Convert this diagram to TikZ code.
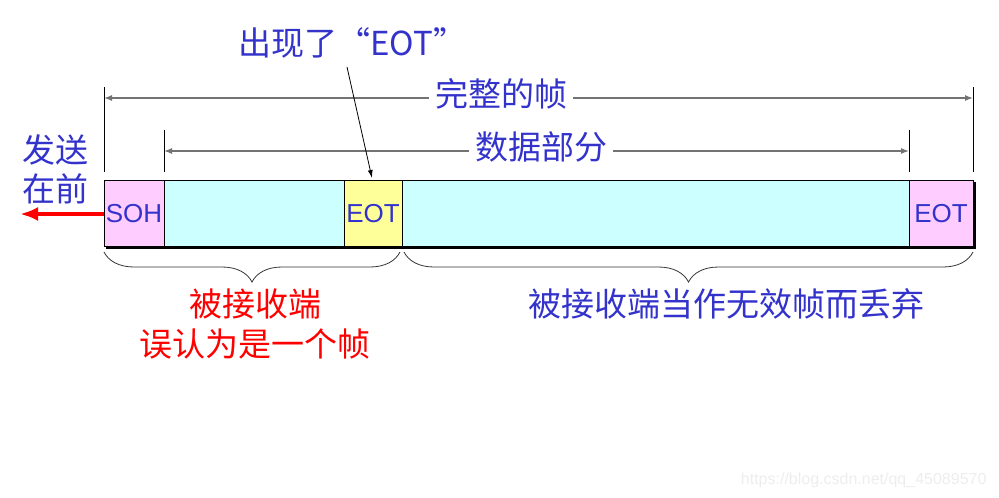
\documentclass[tikz,border=0pt]{standalone}
\usepackage{fontspec}
\setmainfont{Liberation Sans}
\newfontfamily\cjk{Noto Sans CJK SC}
\usetikzlibrary{arrows.meta,decorations.pathreplacing}
\definecolor{tblue}{HTML}{3333CC}
\definecolor{tpink}{HTML}{FFCCFF}
\definecolor{tcyan}{HTML}{CCFFFF}
\definecolor{tyel}{HTML}{FFFF99}
\begin{document}
\begin{tikzpicture}[x=1pt,y=-1pt,
  cell/.style={draw=black,line width=1pt},
  lbl/.style={font=\fontsize{26}{28}\selectfont,text=tblue,inner sep=0pt},
  cjklbl/.style={font=\cjk\fontsize{33}{37}\selectfont,text=tblue,inner sep=1pt},
  redlbl/.style={font=\cjk\fontsize{33}{40}\selectfont,text=red,inner sep=1pt,align=center},
  dimline/.style={draw=black!55,line width=1.2pt},
  tick/.style={draw=black,line width=0.8pt},
  bracestyle/.style={draw=black!80,line width=0.8pt,decorate,decoration={brace,mirror,amplitude=30pt}}]
\useasboundingbox (0,0) rectangle (999,498);
% shadow
\fill[black] (106,246) rectangle (975.5,248.5);
\fill[black] (973,182) rectangle (975.5,248.5);
% cells
\filldraw[cell,fill=tpink] (104,180) rectangle (164,246);
\filldraw[cell,fill=tcyan] (164,180) rectangle (344,246);
\filldraw[cell,fill=tyel] (344,180) rectangle (402,246);
\filldraw[cell,fill=tcyan] (402,180) rectangle (909,246);
\filldraw[cell,fill=tpink] (909,180) rectangle (973,246);
\node[lbl] (soh) at (134,214) {SOH};
\node[lbl] (eot1) at (373,214) {EOT};
\node[lbl] (eot2) at (941,214) {EOT};
% ticks
\coordinate (t1a) at (104,87); \coordinate (t1b) at (104,172);
\coordinate (t2a) at (973,87); \coordinate (t2b) at (973,172);
\coordinate (t3a) at (164,130); \coordinate (t3b) at (164,172);
\coordinate (t4a) at (909,130); \coordinate (t4b) at (909,172);
\draw[tick] (t1a) -- (t1b);
\draw[tick] (t2a) -- (t2b);
\draw[tick] (t3a) -- (t3b);
\draw[tick] (t4a) -- (t4b);
% dimension lines
\node[cjklbl,fill=white,inner xsep=6pt] (whole) at (501,94) {完整的帧};
\coordinate (w1) at (104,98); \coordinate (w2) at (973,98);
\draw[dimline,-{Latex[length=8pt,width=6pt]}] (whole.west |- w1) -- (w1);
\draw[dimline,-{Latex[length=8pt,width=6pt]}] (whole.east |- w2) -- (w2);
\node[cjklbl,fill=white,inner xsep=6pt] (data) at (541,147) {数据部分};
\coordinate (d1) at (164,151); \coordinate (d2) at (909,151);
\draw[dimline,-{Latex[length=8pt,width=6pt]}] (data.west |- d1) -- (d1);
\draw[dimline,-{Latex[length=8pt,width=6pt]}] (data.east |- d2) -- (d2);
% EOT callout
\node[cjklbl,anchor=west] (appear) at (237,43) {出现了“EOT”};
\coordinate (ca) at (347,67);
\coordinate (cb) at (372,178);
\draw[black,line width=0.8pt,-{Latex[length=8pt,width=5pt]}] (ca) -- (cb);
% send first
\node[cjklbl] (send1) at (56,150) {发送};
\node[cjklbl] (send2) at (56,189) {在前};
\coordinate (ra) at (104,214);
\coordinate (rb) at (20,214);
\draw[red,line width=4pt,-{Latex[length=18pt,width=14pt]}] (ra) -- (rb);
% braces
\coordinate (b1a) at (104,252); \coordinate (b1b) at (400,252);
\coordinate (b2a) at (404,252); \coordinate (b2b) at (973,252);
\draw[bracestyle] (b1a) -- (b1b);
\draw[bracestyle] (b2a) -- (b2b);
\node[redlbl] (recv1) at (255,304) {被接收端};
\node[redlbl] (recv2) at (255,344) {误认为是一个帧};
\node[cjklbl] (discard) at (726,304) {被接收端当作无效帧而丢弃};
% watermark
\node[font=\fontsize{16}{18}\selectfont,text=black!7,anchor=east] (wm) at (990,480) {https://blog.csdn.net/qq\_45089570};
\end{tikzpicture}
\end{document}
